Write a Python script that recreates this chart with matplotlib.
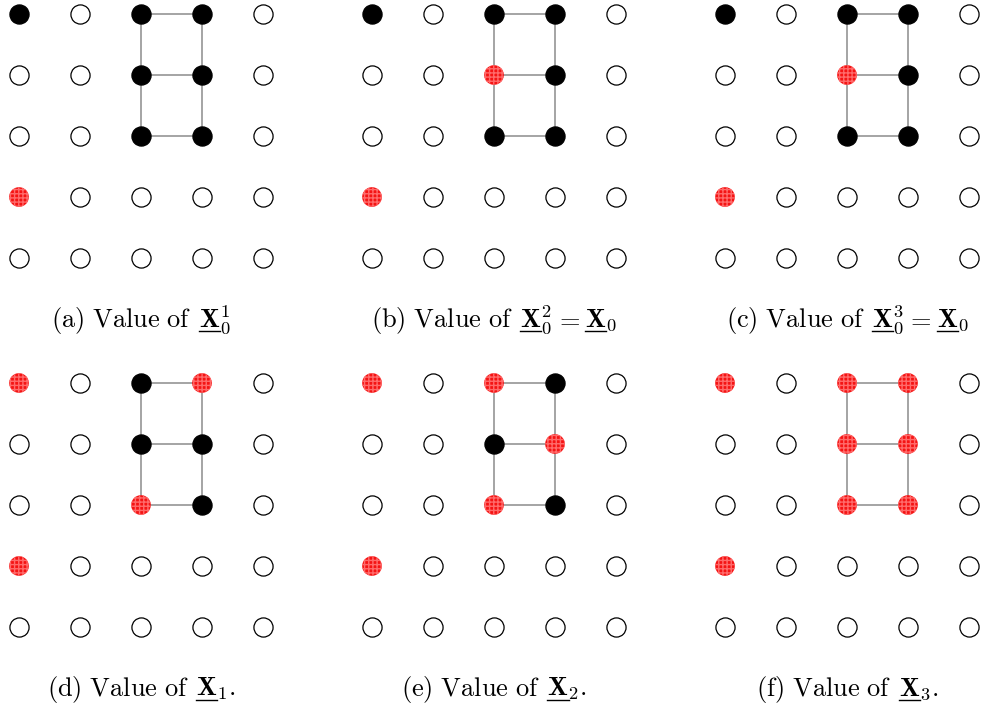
import numpy as np
import matplotlib
matplotlib.use("Agg")
import matplotlib.pyplot as plt
from matplotlib.lines import Line2D

plt.rcParams['mathtext.fontset'] = 'cm'
plt.rcParams['font.family'] = 'serif'

# node states on the 5x5 lattice: 0 = empty, 1 = black, 2 = red
state_a = [[1, 0, 1, 1, 0],
           [0, 0, 1, 1, 0],
           [0, 0, 1, 1, 0],
           [2, 0, 0, 0, 0],
           [0, 0, 0, 0, 0]]
state_b = [[1, 0, 1, 1, 0],
           [0, 0, 2, 1, 0],
           [0, 0, 1, 1, 0],
           [2, 0, 0, 0, 0],
           [0, 0, 0, 0, 0]]
state_c = [[1, 0, 1, 1, 0],
           [0, 0, 2, 1, 0],
           [0, 0, 1, 1, 0],
           [2, 0, 0, 0, 0],
           [0, 0, 0, 0, 0]]
state_d = [[2, 0, 1, 2, 0],
           [0, 0, 1, 1, 0],
           [0, 0, 2, 1, 0],
           [2, 0, 0, 0, 0],
           [0, 0, 0, 0, 0]]
state_e = [[2, 0, 2, 1, 0],
           [0, 0, 1, 2, 0],
           [0, 0, 2, 1, 0],
           [2, 0, 0, 0, 0],
           [0, 0, 0, 0, 0]]
state_f = [[2, 0, 2, 2, 0],
           [0, 0, 2, 2, 0],
           [0, 0, 2, 2, 0],
           [2, 0, 0, 0, 0],
           [0, 0, 0, 0, 0]]
states = [state_a, state_b, state_c, state_d, state_e, state_f]

# edges between (row, col) nodes
edges = [((0, 2), (0, 3)), ((1, 2), (1, 3)), ((2, 2), (2, 3)),
         ((0, 2), (1, 2)), ((1, 2), (2, 2)),
         ((0, 3), (1, 3)), ((1, 3), (2, 3))]

# caption pieces: (mathtext, underline the leading bold X, gap after in px)
captions = [
    [(r"$\mathrm{(a)\ Value\ of}$", False, 7), (r"$\mathbf{X}_0^1$", True, 0)],
    [(r"$\mathrm{(b)\ Value\ of}$", False, 7), (r"$\mathbf{X}_0^2$", True, 3),
     (r"$=$", False, 5), (r"$\mathbf{X}_0$", True, 0)],
    [(r"$\mathrm{(c)\ Value\ of}$", False, 7), (r"$\mathbf{X}_0^3$", True, 3),
     (r"$=$", False, 5), (r"$\mathbf{X}_0$", True, 0)],
    [(r"$\mathrm{(d)\ Value\ of}$", False, 7), (r"$\mathbf{X}_1.$", True, 0)],
    [(r"$\mathrm{(e)\ Value\ of}$", False, 7), (r"$\mathbf{X}_2.$", True, 0)],
    [(r"$\mathrm{(f)\ Value\ of}$", False, 7), (r"$\mathbf{X}_3.$", True, 0)],
]

W, H = 982, 706
fig = plt.figure(figsize=(W / 100, H / 100), dpi=100)
fig.set_facecolor("white")
renderer = fig.canvas.get_renderer()

step = 61.0
pad = 0.3
origins = [(19, 14), (372, 14), (725, 14), (19, 383), (372, 383), (725, 383)]
cap_size = 19


def draw_caption(cx, cy, parts):
    # lay the pieces out left to right, centred on cx (pixel coords, y from top)
    texts = []
    for s, ul, gap in parts:
        t = fig.text(0, 1 - cy / H, s, ha="left", va="baseline", fontsize=cap_size)
        texts.append((t, t.get_window_extent(renderer).width, ul, gap))
    probe = fig.text(0, 0, r"$\mathbf{X}$", fontsize=cap_size)
    xw = probe.get_window_extent(renderer).width
    probe.remove()
    total = sum(w + g for _, w, _, g in texts)
    x = cx - total / 2
    for t, w, ul, gap in texts:
        t.set_x(x / W)
        if ul:
            yy = 1 - (cy + 4) / H
            fig.add_artist(Line2D([x / W, (x + xw) / W], [yy, yy],
                                  color="black", lw=1.0))
        x += w + gap


for k, (ox, oy) in enumerate(origins):
    left = (ox - pad * step) / W
    width = (4 + 2 * pad) * step / W
    top = oy - pad * step
    height = (4 + 2 * pad) * step / H
    bottom = 1 - (top + (4 + 2 * pad) * step) / H
    ax = fig.add_axes([left, bottom, width, height])
    ax.set_xlim(-pad, 4 + pad)
    ax.set_ylim(4 + pad, -pad)
    ax.axis("off")

    for (r1, c1), (r2, c2) in edges:
        ax.plot([c1, c2], [r1, r2], color="#8c8c8c", lw=1.1, zorder=1)

    grid = np.array(states[k])
    rows, cols = np.indices(grid.shape)
    for val, fc in [(0, "white"), (1, "black")]:
        m = grid == val
        ax.scatter(cols[m], rows[m], s=190, facecolor=fc, edgecolor="black",
                   linewidths=0.9, zorder=2)
    m = grid == 2
    ax.scatter(cols[m], rows[m], s=200, facecolor="#f41414", edgecolor="#ff6a6a",
               linewidths=0, hatch="++++", zorder=2)

    draw_caption(ox + 2 * step, oy + 313, captions[k])

fig.savefig("out.png", dpi=100)
